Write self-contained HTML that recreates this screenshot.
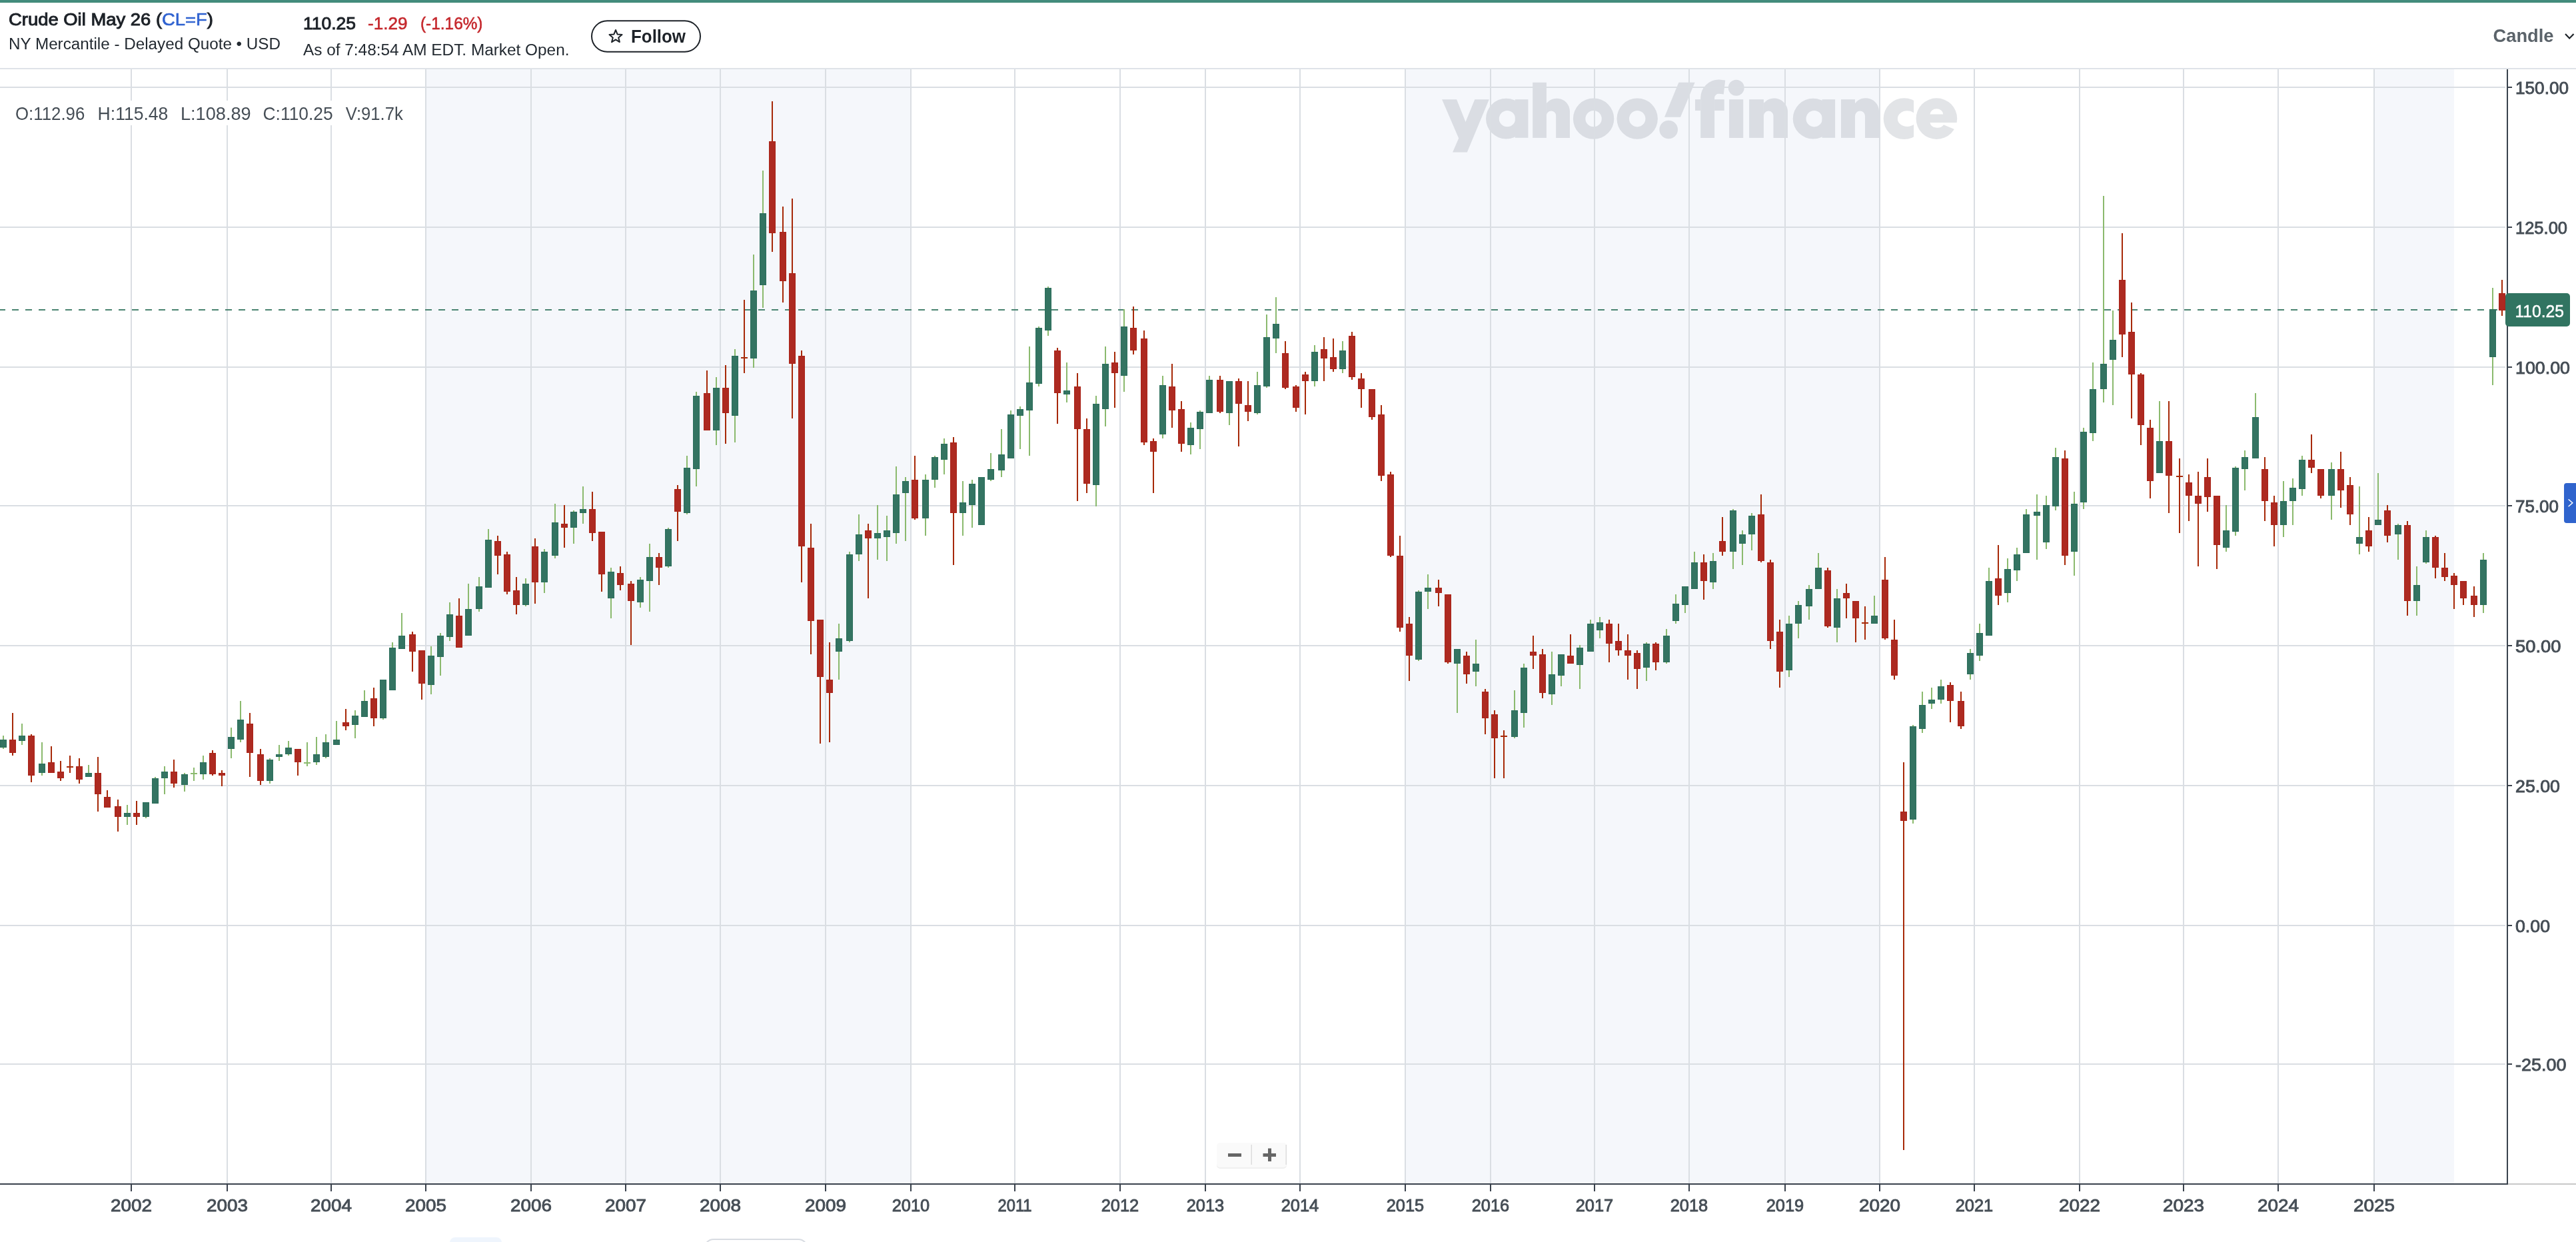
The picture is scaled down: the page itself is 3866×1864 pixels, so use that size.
<!DOCTYPE html>
<html><head><meta charset="utf-8"><title>Crude Oil May 26 (CL=F)</title>
<style>
html,body{margin:0;padding:0;background:#fff;}
body{width:3866px;height:1864px;overflow:hidden;position:relative;font-family:"Liberation Sans",sans-serif;}
</style></head><body>
<svg width="3866" height="1864" viewBox="0 0 3866 1864" style="position:absolute;left:0;top:0" font-family="Liberation Sans, sans-serif">
<rect x="639" y="104" width="728" height="1672" fill="#f5f7fb"/>
<rect x="2109" y="104" width="712" height="1672" fill="#f5f7fb"/>
<rect x="3563" y="104" width="120" height="1672" fill="#f5f7fb"/>
<defs>
<mask id="mc" maskUnits="userSpaceOnUse" x="2820" y="140" width="130" height="80"><rect x="2820" y="140" width="130" height="80" fill="#fff"/><ellipse cx="2862.3" cy="178.15" rx="14.4" ry="11.85" fill="#000"/><rect x="2872.1" y="140" width="30" height="80" fill="#000"/></mask>
<mask id="me" maskUnits="userSpaceOnUse" x="2870" y="140" width="80" height="80"><rect x="2870" y="140" width="80" height="80" fill="#fff"/><path d="M2896.5 171.4 A9.9 8.1 0 0 1 2916.3 171.4 Z" fill="#000"/><path d="M2896.5 183.9 H2945 V199.1 L2917 187.2 A11 9 0 0 1 2896.5 183.9 Z" fill="#000"/></mask>
</defs>
<g opacity="0.2" fill="rgb(110,120,135)" stroke="none">
<path d="M2164.1 149.2 H2186.1 L2199.5 182.9 L2213.3 149.2 H2234.8 L2201.8 228.5 H2180.1 L2189.2 207.5 Z"/>
<path fill-rule="evenodd" d="M2230.05 178.15 a30.35 30.35 0 1 0 60.7 0 a30.35 30.35 0 1 0 -60.7 0 Z M2249.8 178.15 a12.2 12.2 0 1 0 24.4 0 a12.2 12.2 0 1 0 -24.4 0 Z"/>
<rect x="2273.8" y="149.2" width="19.6" height="57.6"/>
<rect x="2300.2" y="123.8" width="20.700000000000273" height="83.10000000000001"/><path d="M2320.9 155.11 A19.7 19.7 0 0 1 2356 167.4 V206.9 H2335.2 V173.64999999999986 A7.149999999999864 7.149999999999864 0 0 0 2320.9 173.64999999999986 Z"/>
<path fill-rule="evenodd" d="M2360.9 178.15 a30.7 30.7 0 1 0 61.4 0 a30.7 30.7 0 1 0 -61.4 0 Z M2379.4 178.15 a12.2 12.2 0 1 0 24.4 0 a12.2 12.2 0 1 0 -24.4 0 Z"/>
<path fill-rule="evenodd" d="M2426.5 178.15 a30.7 30.7 0 1 0 61.4 0 a30.7 30.7 0 1 0 -61.4 0 Z M2445.0 178.15 a12.2 12.2 0 1 0 24.4 0 a12.2 12.2 0 1 0 -24.4 0 Z"/>
<path d="M2519.4 123.8 H2543.6 L2522 175.7 H2498 Z"/>
<circle cx="2504.2" cy="194.5" r="13.8"/>
<rect x="2544" y="149.2" width="8.2" height="16.8"/><rect x="2573.1" y="149.2" width="14.6" height="16.8"/>
<path d="M2562.65 207 V147 A17 17 0 0 1 2579.6 130 L2588 131" fill="none" stroke="rgb(110,120,135)" stroke-width="20.9"/>
<rect x="2595.1" y="149.2" width="21.1" height="57.8"/>
<circle cx="2605.7" cy="131.8" r="12"/>
<rect x="2625.1" y="149.2" width="21.800000000000182" height="57.70000000000002"/><path d="M2646.9 154.87 A20.4 20.4 0 0 1 2683 167.9 V206.9 H2661.5 V173.79999999999995 A7.2999999999999545 7.2999999999999545 0 0 0 2646.9 173.79999999999995 Z"/>
<path fill-rule="evenodd" d="M2690.75 178.15 a30.35 30.35 0 1 0 60.7 0 a30.35 30.35 0 1 0 -60.7 0 Z M2710.5 178.15 a12.2 12.2 0 1 0 24.4 0 a12.2 12.2 0 1 0 -24.4 0 Z"/>
<rect x="2734.5" y="149.2" width="19.6" height="57.6"/>
<rect x="2763" y="149.2" width="21" height="57.70000000000002"/><path d="M2784 155.20 A20 20 0 0 1 2820 167.2 V206.9 H2799 V174.0 A7.5 7.5 0 0 0 2784 174.0 Z"/>
<circle cx="2857.6" cy="178.1" r="30.9" mask="url(#mc)"/>
<circle cx="2906.4" cy="178.1" r="30.8" mask="url(#me)"/>
</g>
<rect x="0" y="130" width="3760" height="2" fill="#dadee3"/>
<rect x="0" y="340" width="3760" height="2" fill="#dadee3"/>
<rect x="0" y="550" width="3760" height="2" fill="#dadee3"/>
<rect x="0" y="758" width="3760" height="2" fill="#dadee3"/>
<rect x="0" y="968" width="3760" height="2" fill="#dadee3"/>
<rect x="0" y="1178" width="3760" height="2" fill="#dadee3"/>
<rect x="0" y="1388" width="3760" height="2" fill="#dadee3"/>
<rect x="0" y="1596" width="3760" height="2" fill="#dadee3"/>
<rect x="196" y="104" width="2" height="1672" fill="#dadee3"/>
<rect x="340" y="104" width="2" height="1672" fill="#dadee3"/>
<rect x="496" y="104" width="2" height="1672" fill="#dadee3"/>
<rect x="638" y="104" width="2" height="1672" fill="#dadee3"/>
<rect x="796" y="104" width="2" height="1672" fill="#dadee3"/>
<rect x="938" y="104" width="2" height="1672" fill="#dadee3"/>
<rect x="1080" y="104" width="2" height="1672" fill="#dadee3"/>
<rect x="1238" y="104" width="2" height="1672" fill="#dadee3"/>
<rect x="1366" y="104" width="2" height="1672" fill="#dadee3"/>
<rect x="1522" y="104" width="2" height="1672" fill="#dadee3"/>
<rect x="1680" y="104" width="2" height="1672" fill="#dadee3"/>
<rect x="1808" y="104" width="2" height="1672" fill="#dadee3"/>
<rect x="1950" y="104" width="2" height="1672" fill="#dadee3"/>
<rect x="2108" y="104" width="2" height="1672" fill="#dadee3"/>
<rect x="2236" y="104" width="2" height="1672" fill="#dadee3"/>
<rect x="2392" y="104" width="2" height="1672" fill="#dadee3"/>
<rect x="2534" y="104" width="2" height="1672" fill="#dadee3"/>
<rect x="2678" y="104" width="2" height="1672" fill="#dadee3"/>
<rect x="2820" y="104" width="2" height="1672" fill="#dadee3"/>
<rect x="2962" y="104" width="2" height="1672" fill="#dadee3"/>
<rect x="3120" y="104" width="2" height="1672" fill="#dadee3"/>
<rect x="3276" y="104" width="2" height="1672" fill="#dadee3"/>
<rect x="3418" y="104" width="2" height="1672" fill="#dadee3"/>
<rect x="3562" y="104" width="2" height="1672" fill="#dadee3"/>
<rect x="0" y="102" width="3866" height="2" fill="#dfe3e8"/>
<line x1="0" y1="465" x2="3760" y2="465" stroke="#4a8471" stroke-width="2" stroke-dasharray="10 10" stroke-dashoffset="2"/>
<rect x="4" y="1104" width="2" height="20" fill="#8bba6e"/>
<rect x="0" y="1110" width="10" height="12" fill="#2b6e5b"/>
<rect x="1" y="1111" width="8" height="10" fill="#347462"/>
<rect x="18" y="1070" width="2" height="64" fill="#a72908"/>
<rect x="14" y="1110" width="10" height="20" fill="#aa2318"/>
<rect x="15" y="1111" width="8" height="18" fill="#ad2a21"/>
<rect x="32" y="1086" width="2" height="32" fill="#8bba6e"/>
<rect x="28" y="1104" width="10" height="8" fill="#2b6e5b"/>
<rect x="29" y="1105" width="8" height="6" fill="#347462"/>
<rect x="46" y="1102" width="2" height="72" fill="#a72908"/>
<rect x="42" y="1104" width="10" height="60" fill="#aa2318"/>
<rect x="43" y="1105" width="8" height="58" fill="#ad2a21"/>
<rect x="62" y="1114" width="2" height="50" fill="#8bba6e"/>
<rect x="58" y="1146" width="10" height="14" fill="#2b6e5b"/>
<rect x="59" y="1147" width="8" height="12" fill="#347462"/>
<rect x="76" y="1120" width="2" height="40" fill="#a72908"/>
<rect x="72" y="1144" width="10" height="16" fill="#aa2318"/>
<rect x="73" y="1145" width="8" height="14" fill="#ad2a21"/>
<rect x="90" y="1142" width="2" height="30" fill="#a72908"/>
<rect x="86" y="1158" width="10" height="10" fill="#aa2318"/>
<rect x="87" y="1159" width="8" height="8" fill="#ad2a21"/>
<rect x="104" y="1134" width="2" height="26" fill="#a72908"/>
<rect x="100" y="1150" width="10" height="2" fill="#a72908"/>
<rect x="118" y="1138" width="2" height="38" fill="#a72908"/>
<rect x="114" y="1150" width="10" height="20" fill="#aa2318"/>
<rect x="115" y="1151" width="8" height="18" fill="#ad2a21"/>
<rect x="132" y="1148" width="2" height="18" fill="#8bba6e"/>
<rect x="128" y="1160" width="10" height="6" fill="#2b6e5b"/>
<rect x="129" y="1161" width="8" height="4" fill="#347462"/>
<rect x="146" y="1136" width="2" height="82" fill="#a72908"/>
<rect x="142" y="1160" width="10" height="32" fill="#aa2318"/>
<rect x="143" y="1161" width="8" height="30" fill="#ad2a21"/>
<rect x="160" y="1186" width="2" height="26" fill="#a72908"/>
<rect x="156" y="1196" width="10" height="16" fill="#aa2318"/>
<rect x="157" y="1197" width="8" height="14" fill="#ad2a21"/>
<rect x="176" y="1200" width="2" height="48" fill="#a72908"/>
<rect x="172" y="1210" width="10" height="16" fill="#aa2318"/>
<rect x="173" y="1211" width="8" height="14" fill="#ad2a21"/>
<rect x="190" y="1208" width="2" height="30" fill="#8bba6e"/>
<rect x="186" y="1220" width="10" height="6" fill="#2b6e5b"/>
<rect x="187" y="1221" width="8" height="4" fill="#347462"/>
<rect x="204" y="1202" width="2" height="36" fill="#a72908"/>
<rect x="200" y="1220" width="10" height="6" fill="#aa2318"/>
<rect x="201" y="1221" width="8" height="4" fill="#ad2a21"/>
<rect x="218" y="1204" width="2" height="24" fill="#8bba6e"/>
<rect x="214" y="1204" width="10" height="22" fill="#2b6e5b"/>
<rect x="215" y="1205" width="8" height="20" fill="#347462"/>
<rect x="232" y="1166" width="2" height="40" fill="#8bba6e"/>
<rect x="228" y="1168" width="10" height="38" fill="#2b6e5b"/>
<rect x="229" y="1169" width="8" height="36" fill="#347462"/>
<rect x="246" y="1150" width="2" height="42" fill="#8bba6e"/>
<rect x="242" y="1158" width="10" height="10" fill="#2b6e5b"/>
<rect x="243" y="1159" width="8" height="8" fill="#347462"/>
<rect x="260" y="1140" width="2" height="42" fill="#a72908"/>
<rect x="256" y="1158" width="10" height="18" fill="#aa2318"/>
<rect x="257" y="1159" width="8" height="16" fill="#ad2a21"/>
<rect x="276" y="1160" width="2" height="28" fill="#8bba6e"/>
<rect x="272" y="1162" width="10" height="16" fill="#2b6e5b"/>
<rect x="273" y="1163" width="8" height="14" fill="#347462"/>
<rect x="290" y="1152" width="2" height="20" fill="#8bba6e"/>
<rect x="286" y="1160" width="10" height="2" fill="#8bba6e"/>
<rect x="304" y="1134" width="2" height="36" fill="#8bba6e"/>
<rect x="300" y="1144" width="10" height="18" fill="#2b6e5b"/>
<rect x="301" y="1145" width="8" height="16" fill="#347462"/>
<rect x="318" y="1126" width="2" height="38" fill="#a72908"/>
<rect x="314" y="1130" width="10" height="32" fill="#aa2318"/>
<rect x="315" y="1131" width="8" height="30" fill="#ad2a21"/>
<rect x="332" y="1156" width="2" height="24" fill="#a72908"/>
<rect x="328" y="1160" width="10" height="4" fill="#aa2318"/>
<rect x="329" y="1161" width="8" height="2" fill="#ad2a21"/>
<rect x="346" y="1092" width="2" height="46" fill="#8bba6e"/>
<rect x="342" y="1106" width="10" height="18" fill="#2b6e5b"/>
<rect x="343" y="1107" width="8" height="16" fill="#347462"/>
<rect x="360" y="1052" width="2" height="62" fill="#8bba6e"/>
<rect x="356" y="1080" width="10" height="30" fill="#2b6e5b"/>
<rect x="357" y="1081" width="8" height="28" fill="#347462"/>
<rect x="374" y="1070" width="2" height="96" fill="#a72908"/>
<rect x="370" y="1086" width="10" height="44" fill="#aa2318"/>
<rect x="371" y="1087" width="8" height="42" fill="#ad2a21"/>
<rect x="390" y="1124" width="2" height="54" fill="#a72908"/>
<rect x="386" y="1132" width="10" height="40" fill="#aa2318"/>
<rect x="387" y="1133" width="8" height="38" fill="#ad2a21"/>
<rect x="404" y="1138" width="2" height="38" fill="#8bba6e"/>
<rect x="400" y="1140" width="10" height="32" fill="#2b6e5b"/>
<rect x="401" y="1141" width="8" height="30" fill="#347462"/>
<rect x="418" y="1118" width="2" height="24" fill="#8bba6e"/>
<rect x="414" y="1132" width="10" height="4" fill="#2b6e5b"/>
<rect x="415" y="1133" width="8" height="2" fill="#347462"/>
<rect x="432" y="1112" width="2" height="22" fill="#8bba6e"/>
<rect x="428" y="1122" width="10" height="10" fill="#2b6e5b"/>
<rect x="429" y="1123" width="8" height="8" fill="#347462"/>
<rect x="446" y="1124" width="2" height="40" fill="#a72908"/>
<rect x="442" y="1124" width="10" height="20" fill="#aa2318"/>
<rect x="443" y="1125" width="8" height="18" fill="#ad2a21"/>
<rect x="460" y="1114" width="2" height="36" fill="#8bba6e"/>
<rect x="456" y="1144" width="10" height="2" fill="#8bba6e"/>
<rect x="474" y="1106" width="2" height="42" fill="#8bba6e"/>
<rect x="470" y="1132" width="10" height="12" fill="#2b6e5b"/>
<rect x="471" y="1133" width="8" height="10" fill="#347462"/>
<rect x="488" y="1102" width="2" height="36" fill="#8bba6e"/>
<rect x="484" y="1114" width="10" height="22" fill="#2b6e5b"/>
<rect x="485" y="1115" width="8" height="20" fill="#347462"/>
<rect x="504" y="1082" width="2" height="36" fill="#8bba6e"/>
<rect x="500" y="1110" width="10" height="8" fill="#2b6e5b"/>
<rect x="501" y="1111" width="8" height="6" fill="#347462"/>
<rect x="518" y="1064" width="2" height="32" fill="#a72908"/>
<rect x="514" y="1084" width="10" height="6" fill="#aa2318"/>
<rect x="515" y="1085" width="8" height="4" fill="#ad2a21"/>
<rect x="532" y="1066" width="2" height="42" fill="#8bba6e"/>
<rect x="528" y="1074" width="10" height="14" fill="#2b6e5b"/>
<rect x="529" y="1075" width="8" height="12" fill="#347462"/>
<rect x="546" y="1036" width="2" height="40" fill="#8bba6e"/>
<rect x="542" y="1052" width="10" height="24" fill="#2b6e5b"/>
<rect x="543" y="1053" width="8" height="22" fill="#347462"/>
<rect x="560" y="1032" width="2" height="58" fill="#a72908"/>
<rect x="556" y="1048" width="10" height="30" fill="#aa2318"/>
<rect x="557" y="1049" width="8" height="28" fill="#ad2a21"/>
<rect x="574" y="1020" width="2" height="60" fill="#8bba6e"/>
<rect x="570" y="1020" width="10" height="58" fill="#2b6e5b"/>
<rect x="571" y="1021" width="8" height="56" fill="#347462"/>
<rect x="588" y="964" width="2" height="72" fill="#8bba6e"/>
<rect x="584" y="972" width="10" height="64" fill="#2b6e5b"/>
<rect x="585" y="973" width="8" height="62" fill="#347462"/>
<rect x="602" y="920" width="2" height="54" fill="#8bba6e"/>
<rect x="598" y="954" width="10" height="20" fill="#2b6e5b"/>
<rect x="599" y="955" width="8" height="18" fill="#347462"/>
<rect x="618" y="948" width="2" height="60" fill="#a72908"/>
<rect x="614" y="952" width="10" height="26" fill="#aa2318"/>
<rect x="615" y="953" width="8" height="24" fill="#ad2a21"/>
<rect x="632" y="976" width="2" height="74" fill="#a72908"/>
<rect x="628" y="976" width="10" height="50" fill="#aa2318"/>
<rect x="629" y="977" width="8" height="48" fill="#ad2a21"/>
<rect x="646" y="970" width="2" height="72" fill="#8bba6e"/>
<rect x="642" y="984" width="10" height="44" fill="#2b6e5b"/>
<rect x="643" y="985" width="8" height="42" fill="#347462"/>
<rect x="660" y="950" width="2" height="64" fill="#8bba6e"/>
<rect x="656" y="954" width="10" height="32" fill="#2b6e5b"/>
<rect x="657" y="955" width="8" height="30" fill="#347462"/>
<rect x="674" y="904" width="2" height="58" fill="#8bba6e"/>
<rect x="670" y="922" width="10" height="34" fill="#2b6e5b"/>
<rect x="671" y="923" width="8" height="32" fill="#347462"/>
<rect x="688" y="898" width="2" height="74" fill="#a72908"/>
<rect x="684" y="924" width="10" height="48" fill="#aa2318"/>
<rect x="685" y="925" width="8" height="46" fill="#ad2a21"/>
<rect x="702" y="876" width="2" height="78" fill="#8bba6e"/>
<rect x="698" y="914" width="10" height="40" fill="#2b6e5b"/>
<rect x="699" y="915" width="8" height="38" fill="#347462"/>
<rect x="718" y="866" width="2" height="52" fill="#8bba6e"/>
<rect x="714" y="880" width="10" height="34" fill="#2b6e5b"/>
<rect x="715" y="881" width="8" height="32" fill="#347462"/>
<rect x="732" y="794" width="2" height="88" fill="#8bba6e"/>
<rect x="728" y="810" width="10" height="72" fill="#2b6e5b"/>
<rect x="729" y="811" width="8" height="70" fill="#347462"/>
<rect x="746" y="804" width="2" height="58" fill="#a72908"/>
<rect x="742" y="812" width="10" height="22" fill="#aa2318"/>
<rect x="743" y="813" width="8" height="20" fill="#ad2a21"/>
<rect x="760" y="828" width="2" height="64" fill="#a72908"/>
<rect x="756" y="832" width="10" height="56" fill="#aa2318"/>
<rect x="757" y="833" width="8" height="54" fill="#ad2a21"/>
<rect x="774" y="866" width="2" height="56" fill="#a72908"/>
<rect x="770" y="886" width="10" height="22" fill="#aa2318"/>
<rect x="771" y="887" width="8" height="20" fill="#ad2a21"/>
<rect x="788" y="868" width="2" height="42" fill="#8bba6e"/>
<rect x="784" y="876" width="10" height="32" fill="#2b6e5b"/>
<rect x="785" y="877" width="8" height="30" fill="#347462"/>
<rect x="802" y="808" width="2" height="98" fill="#a72908"/>
<rect x="798" y="820" width="10" height="54" fill="#aa2318"/>
<rect x="799" y="821" width="8" height="52" fill="#ad2a21"/>
<rect x="816" y="824" width="2" height="66" fill="#8bba6e"/>
<rect x="812" y="828" width="10" height="46" fill="#2b6e5b"/>
<rect x="813" y="829" width="8" height="44" fill="#347462"/>
<rect x="832" y="756" width="2" height="82" fill="#8bba6e"/>
<rect x="828" y="784" width="10" height="50" fill="#2b6e5b"/>
<rect x="829" y="785" width="8" height="48" fill="#347462"/>
<rect x="846" y="758" width="2" height="64" fill="#a72908"/>
<rect x="842" y="786" width="10" height="6" fill="#aa2318"/>
<rect x="843" y="787" width="8" height="4" fill="#ad2a21"/>
<rect x="860" y="766" width="2" height="50" fill="#8bba6e"/>
<rect x="856" y="768" width="10" height="24" fill="#2b6e5b"/>
<rect x="857" y="769" width="8" height="22" fill="#347462"/>
<rect x="874" y="730" width="2" height="56" fill="#8bba6e"/>
<rect x="870" y="764" width="10" height="6" fill="#2b6e5b"/>
<rect x="871" y="765" width="8" height="4" fill="#347462"/>
<rect x="888" y="738" width="2" height="74" fill="#a72908"/>
<rect x="884" y="764" width="10" height="36" fill="#aa2318"/>
<rect x="885" y="765" width="8" height="34" fill="#ad2a21"/>
<rect x="902" y="798" width="2" height="90" fill="#a72908"/>
<rect x="898" y="798" width="10" height="64" fill="#aa2318"/>
<rect x="899" y="799" width="8" height="62" fill="#ad2a21"/>
<rect x="916" y="852" width="2" height="76" fill="#8bba6e"/>
<rect x="912" y="858" width="10" height="40" fill="#2b6e5b"/>
<rect x="913" y="859" width="8" height="38" fill="#347462"/>
<rect x="930" y="850" width="2" height="36" fill="#a72908"/>
<rect x="926" y="860" width="10" height="18" fill="#aa2318"/>
<rect x="927" y="861" width="8" height="16" fill="#ad2a21"/>
<rect x="946" y="872" width="2" height="96" fill="#a72908"/>
<rect x="942" y="876" width="10" height="26" fill="#aa2318"/>
<rect x="943" y="877" width="8" height="24" fill="#ad2a21"/>
<rect x="960" y="866" width="2" height="46" fill="#8bba6e"/>
<rect x="956" y="870" width="10" height="34" fill="#2b6e5b"/>
<rect x="957" y="871" width="8" height="32" fill="#347462"/>
<rect x="974" y="816" width="2" height="102" fill="#8bba6e"/>
<rect x="970" y="836" width="10" height="36" fill="#2b6e5b"/>
<rect x="971" y="837" width="8" height="34" fill="#347462"/>
<rect x="988" y="830" width="2" height="48" fill="#a72908"/>
<rect x="984" y="836" width="10" height="16" fill="#aa2318"/>
<rect x="985" y="837" width="8" height="14" fill="#ad2a21"/>
<rect x="1002" y="792" width="2" height="60" fill="#8bba6e"/>
<rect x="998" y="794" width="10" height="56" fill="#2b6e5b"/>
<rect x="999" y="795" width="8" height="54" fill="#347462"/>
<rect x="1016" y="728" width="2" height="84" fill="#a72908"/>
<rect x="1012" y="734" width="10" height="34" fill="#aa2318"/>
<rect x="1013" y="735" width="8" height="32" fill="#ad2a21"/>
<rect x="1030" y="684" width="2" height="88" fill="#8bba6e"/>
<rect x="1026" y="702" width="10" height="68" fill="#2b6e5b"/>
<rect x="1027" y="703" width="8" height="66" fill="#347462"/>
<rect x="1044" y="588" width="2" height="142" fill="#8bba6e"/>
<rect x="1040" y="594" width="10" height="110" fill="#2b6e5b"/>
<rect x="1041" y="595" width="8" height="108" fill="#347462"/>
<rect x="1060" y="556" width="2" height="90" fill="#a72908"/>
<rect x="1056" y="590" width="10" height="56" fill="#aa2318"/>
<rect x="1057" y="591" width="8" height="54" fill="#ad2a21"/>
<rect x="1074" y="566" width="2" height="102" fill="#8bba6e"/>
<rect x="1070" y="582" width="10" height="64" fill="#2b6e5b"/>
<rect x="1071" y="583" width="8" height="62" fill="#347462"/>
<rect x="1088" y="548" width="2" height="118" fill="#a72908"/>
<rect x="1084" y="582" width="10" height="38" fill="#aa2318"/>
<rect x="1085" y="583" width="8" height="36" fill="#ad2a21"/>
<rect x="1102" y="524" width="2" height="140" fill="#8bba6e"/>
<rect x="1098" y="534" width="10" height="90" fill="#2b6e5b"/>
<rect x="1099" y="535" width="8" height="88" fill="#347462"/>
<rect x="1116" y="450" width="2" height="110" fill="#a72908"/>
<rect x="1112" y="536" width="10" height="2" fill="#a72908"/>
<rect x="1130" y="382" width="2" height="170" fill="#8bba6e"/>
<rect x="1126" y="436" width="10" height="102" fill="#2b6e5b"/>
<rect x="1127" y="437" width="8" height="100" fill="#347462"/>
<rect x="1144" y="256" width="2" height="206" fill="#8bba6e"/>
<rect x="1140" y="320" width="10" height="108" fill="#2b6e5b"/>
<rect x="1141" y="321" width="8" height="106" fill="#347462"/>
<rect x="1158" y="152" width="2" height="226" fill="#a72908"/>
<rect x="1154" y="212" width="10" height="138" fill="#aa2318"/>
<rect x="1155" y="213" width="8" height="136" fill="#ad2a21"/>
<rect x="1174" y="310" width="2" height="144" fill="#a72908"/>
<rect x="1170" y="348" width="10" height="74" fill="#aa2318"/>
<rect x="1171" y="349" width="8" height="72" fill="#ad2a21"/>
<rect x="1188" y="298" width="2" height="330" fill="#a72908"/>
<rect x="1184" y="410" width="10" height="136" fill="#aa2318"/>
<rect x="1185" y="411" width="8" height="134" fill="#ad2a21"/>
<rect x="1202" y="526" width="2" height="348" fill="#a72908"/>
<rect x="1198" y="534" width="10" height="286" fill="#aa2318"/>
<rect x="1199" y="535" width="8" height="284" fill="#ad2a21"/>
<rect x="1216" y="786" width="2" height="196" fill="#a72908"/>
<rect x="1212" y="822" width="10" height="110" fill="#aa2318"/>
<rect x="1213" y="823" width="8" height="108" fill="#ad2a21"/>
<rect x="1230" y="930" width="2" height="186" fill="#a72908"/>
<rect x="1226" y="930" width="10" height="86" fill="#aa2318"/>
<rect x="1227" y="931" width="8" height="84" fill="#ad2a21"/>
<rect x="1244" y="964" width="2" height="150" fill="#a72908"/>
<rect x="1240" y="1020" width="10" height="20" fill="#aa2318"/>
<rect x="1241" y="1021" width="8" height="18" fill="#ad2a21"/>
<rect x="1258" y="936" width="2" height="84" fill="#8bba6e"/>
<rect x="1254" y="958" width="10" height="20" fill="#2b6e5b"/>
<rect x="1255" y="959" width="8" height="18" fill="#347462"/>
<rect x="1274" y="828" width="2" height="136" fill="#8bba6e"/>
<rect x="1270" y="832" width="10" height="130" fill="#2b6e5b"/>
<rect x="1271" y="833" width="8" height="128" fill="#347462"/>
<rect x="1288" y="772" width="2" height="70" fill="#8bba6e"/>
<rect x="1284" y="802" width="10" height="30" fill="#2b6e5b"/>
<rect x="1285" y="803" width="8" height="28" fill="#347462"/>
<rect x="1302" y="786" width="2" height="112" fill="#a72908"/>
<rect x="1298" y="796" width="10" height="12" fill="#aa2318"/>
<rect x="1299" y="797" width="8" height="10" fill="#ad2a21"/>
<rect x="1316" y="758" width="2" height="82" fill="#8bba6e"/>
<rect x="1312" y="800" width="10" height="8" fill="#2b6e5b"/>
<rect x="1313" y="801" width="8" height="6" fill="#347462"/>
<rect x="1330" y="774" width="2" height="68" fill="#8bba6e"/>
<rect x="1326" y="796" width="10" height="10" fill="#2b6e5b"/>
<rect x="1327" y="797" width="8" height="8" fill="#347462"/>
<rect x="1344" y="700" width="2" height="116" fill="#8bba6e"/>
<rect x="1340" y="742" width="10" height="58" fill="#2b6e5b"/>
<rect x="1341" y="743" width="8" height="56" fill="#347462"/>
<rect x="1358" y="716" width="2" height="96" fill="#8bba6e"/>
<rect x="1354" y="722" width="10" height="18" fill="#2b6e5b"/>
<rect x="1355" y="723" width="8" height="16" fill="#347462"/>
<rect x="1372" y="684" width="2" height="96" fill="#a72908"/>
<rect x="1368" y="720" width="10" height="58" fill="#aa2318"/>
<rect x="1369" y="721" width="8" height="56" fill="#ad2a21"/>
<rect x="1388" y="712" width="2" height="92" fill="#8bba6e"/>
<rect x="1384" y="720" width="10" height="58" fill="#2b6e5b"/>
<rect x="1385" y="721" width="8" height="56" fill="#347462"/>
<rect x="1402" y="684" width="2" height="48" fill="#8bba6e"/>
<rect x="1398" y="686" width="10" height="34" fill="#2b6e5b"/>
<rect x="1399" y="687" width="8" height="32" fill="#347462"/>
<rect x="1416" y="658" width="2" height="54" fill="#8bba6e"/>
<rect x="1412" y="666" width="10" height="24" fill="#2b6e5b"/>
<rect x="1413" y="667" width="8" height="22" fill="#347462"/>
<rect x="1430" y="656" width="2" height="192" fill="#a72908"/>
<rect x="1426" y="664" width="10" height="106" fill="#aa2318"/>
<rect x="1427" y="665" width="8" height="104" fill="#ad2a21"/>
<rect x="1444" y="722" width="2" height="82" fill="#8bba6e"/>
<rect x="1440" y="754" width="10" height="16" fill="#2b6e5b"/>
<rect x="1441" y="755" width="8" height="14" fill="#347462"/>
<rect x="1458" y="720" width="2" height="72" fill="#8bba6e"/>
<rect x="1454" y="726" width="10" height="32" fill="#2b6e5b"/>
<rect x="1455" y="727" width="8" height="30" fill="#347462"/>
<rect x="1472" y="716" width="2" height="72" fill="#8bba6e"/>
<rect x="1468" y="716" width="10" height="72" fill="#2b6e5b"/>
<rect x="1469" y="717" width="8" height="70" fill="#347462"/>
<rect x="1486" y="680" width="2" height="42" fill="#8bba6e"/>
<rect x="1482" y="704" width="10" height="16" fill="#2b6e5b"/>
<rect x="1483" y="705" width="8" height="14" fill="#347462"/>
<rect x="1502" y="644" width="2" height="72" fill="#8bba6e"/>
<rect x="1498" y="682" width="10" height="24" fill="#2b6e5b"/>
<rect x="1499" y="683" width="8" height="22" fill="#347462"/>
<rect x="1516" y="616" width="2" height="72" fill="#8bba6e"/>
<rect x="1512" y="622" width="10" height="66" fill="#2b6e5b"/>
<rect x="1513" y="623" width="8" height="64" fill="#347462"/>
<rect x="1530" y="610" width="2" height="64" fill="#8bba6e"/>
<rect x="1526" y="614" width="10" height="10" fill="#2b6e5b"/>
<rect x="1527" y="615" width="8" height="8" fill="#347462"/>
<rect x="1544" y="520" width="2" height="164" fill="#8bba6e"/>
<rect x="1540" y="574" width="10" height="42" fill="#2b6e5b"/>
<rect x="1541" y="575" width="8" height="40" fill="#347462"/>
<rect x="1558" y="490" width="2" height="90" fill="#8bba6e"/>
<rect x="1554" y="492" width="10" height="84" fill="#2b6e5b"/>
<rect x="1555" y="493" width="8" height="82" fill="#347462"/>
<rect x="1572" y="430" width="2" height="74" fill="#8bba6e"/>
<rect x="1568" y="432" width="10" height="64" fill="#2b6e5b"/>
<rect x="1569" y="433" width="8" height="62" fill="#347462"/>
<rect x="1586" y="522" width="2" height="114" fill="#a72908"/>
<rect x="1582" y="526" width="10" height="64" fill="#aa2318"/>
<rect x="1583" y="527" width="8" height="62" fill="#ad2a21"/>
<rect x="1600" y="544" width="2" height="60" fill="#8bba6e"/>
<rect x="1596" y="586" width="10" height="6" fill="#2b6e5b"/>
<rect x="1597" y="587" width="8" height="4" fill="#347462"/>
<rect x="1616" y="560" width="2" height="192" fill="#a72908"/>
<rect x="1612" y="580" width="10" height="64" fill="#aa2318"/>
<rect x="1613" y="581" width="8" height="62" fill="#ad2a21"/>
<rect x="1630" y="628" width="2" height="112" fill="#a72908"/>
<rect x="1626" y="644" width="10" height="82" fill="#aa2318"/>
<rect x="1627" y="645" width="8" height="80" fill="#ad2a21"/>
<rect x="1644" y="594" width="2" height="166" fill="#8bba6e"/>
<rect x="1640" y="606" width="10" height="122" fill="#2b6e5b"/>
<rect x="1641" y="607" width="8" height="120" fill="#347462"/>
<rect x="1658" y="520" width="2" height="120" fill="#8bba6e"/>
<rect x="1654" y="546" width="10" height="68" fill="#2b6e5b"/>
<rect x="1655" y="547" width="8" height="66" fill="#347462"/>
<rect x="1672" y="528" width="2" height="84" fill="#a72908"/>
<rect x="1668" y="544" width="10" height="16" fill="#aa2318"/>
<rect x="1669" y="545" width="8" height="14" fill="#ad2a21"/>
<rect x="1686" y="464" width="2" height="124" fill="#8bba6e"/>
<rect x="1682" y="490" width="10" height="74" fill="#2b6e5b"/>
<rect x="1683" y="491" width="8" height="72" fill="#347462"/>
<rect x="1700" y="460" width="2" height="72" fill="#a72908"/>
<rect x="1696" y="492" width="10" height="34" fill="#aa2318"/>
<rect x="1697" y="493" width="8" height="32" fill="#ad2a21"/>
<rect x="1716" y="496" width="2" height="172" fill="#a72908"/>
<rect x="1712" y="508" width="10" height="156" fill="#aa2318"/>
<rect x="1713" y="509" width="8" height="154" fill="#ad2a21"/>
<rect x="1730" y="658" width="2" height="82" fill="#a72908"/>
<rect x="1726" y="662" width="10" height="16" fill="#aa2318"/>
<rect x="1727" y="663" width="8" height="14" fill="#ad2a21"/>
<rect x="1744" y="564" width="2" height="94" fill="#8bba6e"/>
<rect x="1740" y="578" width="10" height="74" fill="#2b6e5b"/>
<rect x="1741" y="579" width="8" height="72" fill="#347462"/>
<rect x="1758" y="546" width="2" height="96" fill="#a72908"/>
<rect x="1754" y="580" width="10" height="36" fill="#aa2318"/>
<rect x="1755" y="581" width="8" height="34" fill="#ad2a21"/>
<rect x="1772" y="602" width="2" height="76" fill="#a72908"/>
<rect x="1768" y="614" width="10" height="52" fill="#aa2318"/>
<rect x="1769" y="615" width="8" height="50" fill="#ad2a21"/>
<rect x="1786" y="634" width="2" height="48" fill="#8bba6e"/>
<rect x="1782" y="642" width="10" height="26" fill="#2b6e5b"/>
<rect x="1783" y="643" width="8" height="24" fill="#347462"/>
<rect x="1800" y="616" width="2" height="58" fill="#8bba6e"/>
<rect x="1796" y="618" width="10" height="26" fill="#2b6e5b"/>
<rect x="1797" y="619" width="8" height="24" fill="#347462"/>
<rect x="1814" y="564" width="2" height="56" fill="#8bba6e"/>
<rect x="1810" y="570" width="10" height="50" fill="#2b6e5b"/>
<rect x="1811" y="571" width="8" height="48" fill="#347462"/>
<rect x="1830" y="564" width="2" height="56" fill="#a72908"/>
<rect x="1826" y="570" width="10" height="48" fill="#aa2318"/>
<rect x="1827" y="571" width="8" height="46" fill="#ad2a21"/>
<rect x="1844" y="572" width="2" height="66" fill="#8bba6e"/>
<rect x="1840" y="572" width="10" height="48" fill="#2b6e5b"/>
<rect x="1841" y="573" width="8" height="46" fill="#347462"/>
<rect x="1858" y="568" width="2" height="102" fill="#a72908"/>
<rect x="1854" y="572" width="10" height="34" fill="#aa2318"/>
<rect x="1855" y="573" width="8" height="32" fill="#ad2a21"/>
<rect x="1872" y="572" width="2" height="60" fill="#a72908"/>
<rect x="1868" y="608" width="10" height="10" fill="#aa2318"/>
<rect x="1869" y="609" width="8" height="8" fill="#ad2a21"/>
<rect x="1886" y="558" width="2" height="64" fill="#8bba6e"/>
<rect x="1882" y="578" width="10" height="42" fill="#2b6e5b"/>
<rect x="1883" y="579" width="8" height="40" fill="#347462"/>
<rect x="1900" y="472" width="2" height="110" fill="#8bba6e"/>
<rect x="1896" y="506" width="10" height="74" fill="#2b6e5b"/>
<rect x="1897" y="507" width="8" height="72" fill="#347462"/>
<rect x="1914" y="446" width="2" height="84" fill="#8bba6e"/>
<rect x="1910" y="486" width="10" height="22" fill="#2b6e5b"/>
<rect x="1911" y="487" width="8" height="20" fill="#347462"/>
<rect x="1928" y="512" width="2" height="72" fill="#a72908"/>
<rect x="1924" y="530" width="10" height="52" fill="#aa2318"/>
<rect x="1925" y="531" width="8" height="50" fill="#ad2a21"/>
<rect x="1944" y="578" width="2" height="40" fill="#a72908"/>
<rect x="1940" y="580" width="10" height="32" fill="#aa2318"/>
<rect x="1941" y="581" width="8" height="30" fill="#ad2a21"/>
<rect x="1958" y="558" width="2" height="64" fill="#a72908"/>
<rect x="1954" y="562" width="10" height="10" fill="#aa2318"/>
<rect x="1955" y="563" width="8" height="8" fill="#ad2a21"/>
<rect x="1972" y="518" width="2" height="62" fill="#8bba6e"/>
<rect x="1968" y="528" width="10" height="44" fill="#2b6e5b"/>
<rect x="1969" y="529" width="8" height="42" fill="#347462"/>
<rect x="1986" y="506" width="2" height="66" fill="#a72908"/>
<rect x="1982" y="524" width="10" height="14" fill="#aa2318"/>
<rect x="1983" y="525" width="8" height="12" fill="#ad2a21"/>
<rect x="2000" y="508" width="2" height="50" fill="#a72908"/>
<rect x="1996" y="536" width="10" height="18" fill="#aa2318"/>
<rect x="1997" y="537" width="8" height="16" fill="#ad2a21"/>
<rect x="2014" y="512" width="2" height="48" fill="#8bba6e"/>
<rect x="2010" y="526" width="10" height="28" fill="#2b6e5b"/>
<rect x="2011" y="527" width="8" height="26" fill="#347462"/>
<rect x="2028" y="498" width="2" height="72" fill="#a72908"/>
<rect x="2024" y="504" width="10" height="62" fill="#aa2318"/>
<rect x="2025" y="505" width="8" height="60" fill="#ad2a21"/>
<rect x="2042" y="560" width="2" height="52" fill="#a72908"/>
<rect x="2038" y="568" width="10" height="16" fill="#aa2318"/>
<rect x="2039" y="569" width="8" height="14" fill="#ad2a21"/>
<rect x="2058" y="584" width="2" height="46" fill="#a72908"/>
<rect x="2054" y="584" width="10" height="42" fill="#aa2318"/>
<rect x="2055" y="585" width="8" height="40" fill="#ad2a21"/>
<rect x="2072" y="608" width="2" height="114" fill="#a72908"/>
<rect x="2068" y="622" width="10" height="92" fill="#aa2318"/>
<rect x="2069" y="623" width="8" height="90" fill="#ad2a21"/>
<rect x="2086" y="708" width="2" height="128" fill="#a72908"/>
<rect x="2082" y="712" width="10" height="122" fill="#aa2318"/>
<rect x="2083" y="713" width="8" height="120" fill="#ad2a21"/>
<rect x="2100" y="804" width="2" height="144" fill="#a72908"/>
<rect x="2096" y="834" width="10" height="108" fill="#aa2318"/>
<rect x="2097" y="835" width="8" height="106" fill="#ad2a21"/>
<rect x="2114" y="926" width="2" height="96" fill="#a72908"/>
<rect x="2110" y="936" width="10" height="48" fill="#aa2318"/>
<rect x="2111" y="937" width="8" height="46" fill="#ad2a21"/>
<rect x="2128" y="886" width="2" height="106" fill="#8bba6e"/>
<rect x="2124" y="888" width="10" height="102" fill="#2b6e5b"/>
<rect x="2125" y="889" width="8" height="100" fill="#347462"/>
<rect x="2142" y="862" width="2" height="52" fill="#8bba6e"/>
<rect x="2138" y="882" width="10" height="6" fill="#2b6e5b"/>
<rect x="2139" y="883" width="8" height="4" fill="#347462"/>
<rect x="2158" y="870" width="2" height="40" fill="#a72908"/>
<rect x="2154" y="882" width="10" height="8" fill="#aa2318"/>
<rect x="2155" y="883" width="8" height="6" fill="#ad2a21"/>
<rect x="2172" y="892" width="2" height="104" fill="#a72908"/>
<rect x="2168" y="892" width="10" height="102" fill="#aa2318"/>
<rect x="2169" y="893" width="8" height="100" fill="#ad2a21"/>
<rect x="2186" y="974" width="2" height="96" fill="#8bba6e"/>
<rect x="2182" y="974" width="10" height="22" fill="#2b6e5b"/>
<rect x="2183" y="975" width="8" height="20" fill="#347462"/>
<rect x="2200" y="978" width="2" height="48" fill="#a72908"/>
<rect x="2196" y="984" width="10" height="28" fill="#aa2318"/>
<rect x="2197" y="985" width="8" height="26" fill="#ad2a21"/>
<rect x="2214" y="960" width="2" height="70" fill="#8bba6e"/>
<rect x="2210" y="996" width="10" height="12" fill="#2b6e5b"/>
<rect x="2211" y="997" width="8" height="10" fill="#347462"/>
<rect x="2228" y="1034" width="2" height="68" fill="#a72908"/>
<rect x="2224" y="1038" width="10" height="40" fill="#aa2318"/>
<rect x="2225" y="1039" width="8" height="38" fill="#ad2a21"/>
<rect x="2242" y="1066" width="2" height="102" fill="#a72908"/>
<rect x="2238" y="1072" width="10" height="36" fill="#aa2318"/>
<rect x="2239" y="1073" width="8" height="34" fill="#ad2a21"/>
<rect x="2256" y="1096" width="2" height="72" fill="#a72908"/>
<rect x="2252" y="1104" width="10" height="2" fill="#a72908"/>
<rect x="2272" y="1036" width="2" height="72" fill="#8bba6e"/>
<rect x="2268" y="1066" width="10" height="40" fill="#2b6e5b"/>
<rect x="2269" y="1067" width="8" height="38" fill="#347462"/>
<rect x="2286" y="996" width="2" height="96" fill="#8bba6e"/>
<rect x="2282" y="1002" width="10" height="68" fill="#2b6e5b"/>
<rect x="2283" y="1003" width="8" height="66" fill="#347462"/>
<rect x="2300" y="954" width="2" height="50" fill="#a72908"/>
<rect x="2296" y="978" width="10" height="6" fill="#aa2318"/>
<rect x="2297" y="979" width="8" height="4" fill="#ad2a21"/>
<rect x="2314" y="974" width="2" height="74" fill="#a72908"/>
<rect x="2310" y="982" width="10" height="58" fill="#aa2318"/>
<rect x="2311" y="983" width="8" height="56" fill="#ad2a21"/>
<rect x="2328" y="978" width="2" height="80" fill="#8bba6e"/>
<rect x="2324" y="1012" width="10" height="30" fill="#2b6e5b"/>
<rect x="2325" y="1013" width="8" height="28" fill="#347462"/>
<rect x="2342" y="982" width="2" height="48" fill="#8bba6e"/>
<rect x="2338" y="982" width="10" height="32" fill="#2b6e5b"/>
<rect x="2339" y="983" width="8" height="30" fill="#347462"/>
<rect x="2356" y="952" width="2" height="44" fill="#a72908"/>
<rect x="2352" y="984" width="10" height="12" fill="#aa2318"/>
<rect x="2353" y="985" width="8" height="10" fill="#ad2a21"/>
<rect x="2370" y="968" width="2" height="66" fill="#8bba6e"/>
<rect x="2366" y="972" width="10" height="26" fill="#2b6e5b"/>
<rect x="2367" y="973" width="8" height="24" fill="#347462"/>
<rect x="2386" y="930" width="2" height="48" fill="#8bba6e"/>
<rect x="2382" y="936" width="10" height="42" fill="#2b6e5b"/>
<rect x="2383" y="937" width="8" height="40" fill="#347462"/>
<rect x="2400" y="926" width="2" height="32" fill="#8bba6e"/>
<rect x="2396" y="934" width="10" height="12" fill="#2b6e5b"/>
<rect x="2397" y="935" width="8" height="10" fill="#347462"/>
<rect x="2414" y="930" width="2" height="64" fill="#a72908"/>
<rect x="2410" y="936" width="10" height="30" fill="#aa2318"/>
<rect x="2411" y="937" width="8" height="28" fill="#ad2a21"/>
<rect x="2428" y="936" width="2" height="48" fill="#a72908"/>
<rect x="2424" y="962" width="10" height="14" fill="#aa2318"/>
<rect x="2425" y="963" width="8" height="12" fill="#ad2a21"/>
<rect x="2442" y="952" width="2" height="68" fill="#a72908"/>
<rect x="2438" y="976" width="10" height="8" fill="#aa2318"/>
<rect x="2439" y="977" width="8" height="6" fill="#ad2a21"/>
<rect x="2456" y="976" width="2" height="58" fill="#a72908"/>
<rect x="2452" y="980" width="10" height="24" fill="#aa2318"/>
<rect x="2453" y="981" width="8" height="22" fill="#ad2a21"/>
<rect x="2470" y="964" width="2" height="58" fill="#8bba6e"/>
<rect x="2466" y="966" width="10" height="36" fill="#2b6e5b"/>
<rect x="2467" y="967" width="8" height="34" fill="#347462"/>
<rect x="2484" y="964" width="2" height="42" fill="#a72908"/>
<rect x="2480" y="966" width="10" height="28" fill="#aa2318"/>
<rect x="2481" y="967" width="8" height="26" fill="#ad2a21"/>
<rect x="2500" y="944" width="2" height="52" fill="#8bba6e"/>
<rect x="2496" y="954" width="10" height="40" fill="#2b6e5b"/>
<rect x="2497" y="955" width="8" height="38" fill="#347462"/>
<rect x="2514" y="892" width="2" height="44" fill="#8bba6e"/>
<rect x="2510" y="906" width="10" height="26" fill="#2b6e5b"/>
<rect x="2511" y="907" width="8" height="24" fill="#347462"/>
<rect x="2528" y="880" width="2" height="40" fill="#8bba6e"/>
<rect x="2524" y="880" width="10" height="28" fill="#2b6e5b"/>
<rect x="2525" y="881" width="8" height="26" fill="#347462"/>
<rect x="2542" y="828" width="2" height="56" fill="#8bba6e"/>
<rect x="2538" y="844" width="10" height="40" fill="#2b6e5b"/>
<rect x="2539" y="845" width="8" height="38" fill="#347462"/>
<rect x="2556" y="832" width="2" height="68" fill="#a72908"/>
<rect x="2552" y="844" width="10" height="28" fill="#aa2318"/>
<rect x="2553" y="845" width="8" height="26" fill="#ad2a21"/>
<rect x="2570" y="830" width="2" height="54" fill="#8bba6e"/>
<rect x="2566" y="842" width="10" height="32" fill="#2b6e5b"/>
<rect x="2567" y="843" width="8" height="30" fill="#347462"/>
<rect x="2584" y="776" width="2" height="58" fill="#a72908"/>
<rect x="2580" y="812" width="10" height="16" fill="#aa2318"/>
<rect x="2581" y="813" width="8" height="14" fill="#ad2a21"/>
<rect x="2600" y="764" width="2" height="90" fill="#8bba6e"/>
<rect x="2596" y="766" width="10" height="62" fill="#2b6e5b"/>
<rect x="2597" y="767" width="8" height="60" fill="#347462"/>
<rect x="2614" y="796" width="2" height="52" fill="#8bba6e"/>
<rect x="2610" y="802" width="10" height="14" fill="#2b6e5b"/>
<rect x="2611" y="803" width="8" height="12" fill="#347462"/>
<rect x="2628" y="770" width="2" height="56" fill="#8bba6e"/>
<rect x="2624" y="774" width="10" height="28" fill="#2b6e5b"/>
<rect x="2625" y="775" width="8" height="26" fill="#347462"/>
<rect x="2642" y="742" width="2" height="102" fill="#a72908"/>
<rect x="2638" y="772" width="10" height="70" fill="#aa2318"/>
<rect x="2639" y="773" width="8" height="68" fill="#ad2a21"/>
<rect x="2656" y="840" width="2" height="134" fill="#a72908"/>
<rect x="2652" y="844" width="10" height="118" fill="#aa2318"/>
<rect x="2653" y="845" width="8" height="116" fill="#ad2a21"/>
<rect x="2670" y="930" width="2" height="102" fill="#a72908"/>
<rect x="2666" y="948" width="10" height="60" fill="#aa2318"/>
<rect x="2667" y="949" width="8" height="58" fill="#ad2a21"/>
<rect x="2684" y="924" width="2" height="92" fill="#8bba6e"/>
<rect x="2680" y="936" width="10" height="70" fill="#2b6e5b"/>
<rect x="2681" y="937" width="8" height="68" fill="#347462"/>
<rect x="2698" y="902" width="2" height="56" fill="#8bba6e"/>
<rect x="2694" y="908" width="10" height="28" fill="#2b6e5b"/>
<rect x="2695" y="909" width="8" height="26" fill="#347462"/>
<rect x="2714" y="878" width="2" height="52" fill="#8bba6e"/>
<rect x="2710" y="884" width="10" height="26" fill="#2b6e5b"/>
<rect x="2711" y="885" width="8" height="24" fill="#347462"/>
<rect x="2728" y="830" width="2" height="54" fill="#8bba6e"/>
<rect x="2724" y="852" width="10" height="32" fill="#2b6e5b"/>
<rect x="2725" y="853" width="8" height="30" fill="#347462"/>
<rect x="2742" y="852" width="2" height="90" fill="#a72908"/>
<rect x="2738" y="856" width="10" height="84" fill="#aa2318"/>
<rect x="2739" y="857" width="8" height="82" fill="#ad2a21"/>
<rect x="2756" y="884" width="2" height="80" fill="#8bba6e"/>
<rect x="2752" y="898" width="10" height="44" fill="#2b6e5b"/>
<rect x="2753" y="899" width="8" height="42" fill="#347462"/>
<rect x="2770" y="876" width="2" height="52" fill="#a72908"/>
<rect x="2766" y="890" width="10" height="8" fill="#aa2318"/>
<rect x="2767" y="891" width="8" height="6" fill="#ad2a21"/>
<rect x="2784" y="902" width="2" height="62" fill="#a72908"/>
<rect x="2780" y="902" width="10" height="26" fill="#aa2318"/>
<rect x="2781" y="903" width="8" height="24" fill="#ad2a21"/>
<rect x="2798" y="910" width="2" height="50" fill="#a72908"/>
<rect x="2794" y="934" width="10" height="2" fill="#a72908"/>
<rect x="2812" y="894" width="2" height="42" fill="#8bba6e"/>
<rect x="2808" y="924" width="10" height="12" fill="#2b6e5b"/>
<rect x="2809" y="925" width="8" height="10" fill="#347462"/>
<rect x="2828" y="836" width="2" height="124" fill="#a72908"/>
<rect x="2824" y="870" width="10" height="88" fill="#aa2318"/>
<rect x="2825" y="871" width="8" height="86" fill="#ad2a21"/>
<rect x="2842" y="930" width="2" height="90" fill="#a72908"/>
<rect x="2838" y="960" width="10" height="54" fill="#aa2318"/>
<rect x="2839" y="961" width="8" height="52" fill="#ad2a21"/>
<rect x="2856" y="1144" width="2" height="582" fill="#a72908"/>
<rect x="2852" y="1218" width="10" height="14" fill="#aa2318"/>
<rect x="2853" y="1219" width="8" height="12" fill="#ad2a21"/>
<rect x="2870" y="1088" width="2" height="148" fill="#8bba6e"/>
<rect x="2866" y="1090" width="10" height="140" fill="#2b6e5b"/>
<rect x="2867" y="1091" width="8" height="138" fill="#347462"/>
<rect x="2884" y="1038" width="2" height="62" fill="#8bba6e"/>
<rect x="2880" y="1058" width="10" height="36" fill="#2b6e5b"/>
<rect x="2881" y="1059" width="8" height="34" fill="#347462"/>
<rect x="2898" y="1032" width="2" height="32" fill="#8bba6e"/>
<rect x="2894" y="1050" width="10" height="6" fill="#2b6e5b"/>
<rect x="2895" y="1051" width="8" height="4" fill="#347462"/>
<rect x="2912" y="1020" width="2" height="36" fill="#8bba6e"/>
<rect x="2908" y="1030" width="10" height="20" fill="#2b6e5b"/>
<rect x="2909" y="1031" width="8" height="18" fill="#347462"/>
<rect x="2926" y="1024" width="2" height="60" fill="#a72908"/>
<rect x="2922" y="1028" width="10" height="24" fill="#aa2318"/>
<rect x="2923" y="1029" width="8" height="22" fill="#ad2a21"/>
<rect x="2942" y="1038" width="2" height="56" fill="#a72908"/>
<rect x="2938" y="1052" width="10" height="38" fill="#aa2318"/>
<rect x="2939" y="1053" width="8" height="36" fill="#ad2a21"/>
<rect x="2956" y="974" width="2" height="46" fill="#8bba6e"/>
<rect x="2952" y="980" width="10" height="32" fill="#2b6e5b"/>
<rect x="2953" y="981" width="8" height="30" fill="#347462"/>
<rect x="2970" y="936" width="2" height="56" fill="#8bba6e"/>
<rect x="2966" y="950" width="10" height="34" fill="#2b6e5b"/>
<rect x="2967" y="951" width="8" height="32" fill="#347462"/>
<rect x="2984" y="852" width="2" height="102" fill="#8bba6e"/>
<rect x="2980" y="872" width="10" height="82" fill="#2b6e5b"/>
<rect x="2981" y="873" width="8" height="80" fill="#347462"/>
<rect x="2998" y="818" width="2" height="90" fill="#a72908"/>
<rect x="2994" y="868" width="10" height="26" fill="#aa2318"/>
<rect x="2995" y="869" width="8" height="24" fill="#ad2a21"/>
<rect x="3012" y="838" width="2" height="66" fill="#8bba6e"/>
<rect x="3008" y="854" width="10" height="36" fill="#2b6e5b"/>
<rect x="3009" y="855" width="8" height="34" fill="#347462"/>
<rect x="3026" y="822" width="2" height="50" fill="#8bba6e"/>
<rect x="3022" y="832" width="10" height="24" fill="#2b6e5b"/>
<rect x="3023" y="833" width="8" height="22" fill="#347462"/>
<rect x="3040" y="764" width="2" height="66" fill="#8bba6e"/>
<rect x="3036" y="772" width="10" height="58" fill="#2b6e5b"/>
<rect x="3037" y="773" width="8" height="56" fill="#347462"/>
<rect x="3056" y="742" width="2" height="98" fill="#8bba6e"/>
<rect x="3052" y="768" width="10" height="6" fill="#2b6e5b"/>
<rect x="3053" y="769" width="8" height="4" fill="#347462"/>
<rect x="3070" y="744" width="2" height="80" fill="#8bba6e"/>
<rect x="3066" y="758" width="10" height="56" fill="#2b6e5b"/>
<rect x="3067" y="759" width="8" height="54" fill="#347462"/>
<rect x="3084" y="672" width="2" height="94" fill="#8bba6e"/>
<rect x="3080" y="686" width="10" height="74" fill="#2b6e5b"/>
<rect x="3081" y="687" width="8" height="72" fill="#347462"/>
<rect x="3098" y="676" width="2" height="172" fill="#a72908"/>
<rect x="3094" y="688" width="10" height="146" fill="#aa2318"/>
<rect x="3095" y="689" width="8" height="144" fill="#ad2a21"/>
<rect x="3112" y="738" width="2" height="126" fill="#8bba6e"/>
<rect x="3108" y="756" width="10" height="72" fill="#2b6e5b"/>
<rect x="3109" y="757" width="8" height="70" fill="#347462"/>
<rect x="3126" y="642" width="2" height="122" fill="#8bba6e"/>
<rect x="3122" y="648" width="10" height="106" fill="#2b6e5b"/>
<rect x="3123" y="649" width="8" height="104" fill="#347462"/>
<rect x="3140" y="544" width="2" height="118" fill="#8bba6e"/>
<rect x="3136" y="584" width="10" height="66" fill="#2b6e5b"/>
<rect x="3137" y="585" width="8" height="64" fill="#347462"/>
<rect x="3156" y="294" width="2" height="310" fill="#8bba6e"/>
<rect x="3152" y="546" width="10" height="38" fill="#2b6e5b"/>
<rect x="3153" y="547" width="8" height="36" fill="#347462"/>
<rect x="3170" y="466" width="2" height="142" fill="#8bba6e"/>
<rect x="3166" y="510" width="10" height="30" fill="#2b6e5b"/>
<rect x="3167" y="511" width="8" height="28" fill="#347462"/>
<rect x="3184" y="350" width="2" height="186" fill="#a72908"/>
<rect x="3180" y="420" width="10" height="82" fill="#aa2318"/>
<rect x="3181" y="421" width="8" height="80" fill="#ad2a21"/>
<rect x="3198" y="454" width="2" height="174" fill="#a72908"/>
<rect x="3194" y="498" width="10" height="64" fill="#aa2318"/>
<rect x="3195" y="499" width="8" height="62" fill="#ad2a21"/>
<rect x="3212" y="560" width="2" height="108" fill="#a72908"/>
<rect x="3208" y="562" width="10" height="76" fill="#aa2318"/>
<rect x="3209" y="563" width="8" height="74" fill="#ad2a21"/>
<rect x="3226" y="630" width="2" height="118" fill="#a72908"/>
<rect x="3222" y="642" width="10" height="80" fill="#aa2318"/>
<rect x="3223" y="643" width="8" height="78" fill="#ad2a21"/>
<rect x="3240" y="602" width="2" height="108" fill="#8bba6e"/>
<rect x="3236" y="662" width="10" height="48" fill="#2b6e5b"/>
<rect x="3237" y="663" width="8" height="46" fill="#347462"/>
<rect x="3254" y="602" width="2" height="168" fill="#a72908"/>
<rect x="3250" y="662" width="10" height="52" fill="#aa2318"/>
<rect x="3251" y="663" width="8" height="50" fill="#ad2a21"/>
<rect x="3270" y="688" width="2" height="112" fill="#a72908"/>
<rect x="3266" y="714" width="10" height="2" fill="#a72908"/>
<rect x="3284" y="712" width="2" height="70" fill="#a72908"/>
<rect x="3280" y="724" width="10" height="20" fill="#aa2318"/>
<rect x="3281" y="725" width="8" height="18" fill="#ad2a21"/>
<rect x="3298" y="708" width="2" height="142" fill="#a72908"/>
<rect x="3294" y="744" width="10" height="12" fill="#aa2318"/>
<rect x="3295" y="745" width="8" height="10" fill="#ad2a21"/>
<rect x="3312" y="688" width="2" height="80" fill="#a72908"/>
<rect x="3308" y="716" width="10" height="30" fill="#aa2318"/>
<rect x="3309" y="717" width="8" height="28" fill="#ad2a21"/>
<rect x="3326" y="744" width="2" height="110" fill="#a72908"/>
<rect x="3322" y="744" width="10" height="74" fill="#aa2318"/>
<rect x="3323" y="745" width="8" height="72" fill="#ad2a21"/>
<rect x="3340" y="758" width="2" height="70" fill="#8bba6e"/>
<rect x="3336" y="796" width="10" height="26" fill="#2b6e5b"/>
<rect x="3337" y="797" width="8" height="24" fill="#347462"/>
<rect x="3354" y="700" width="2" height="104" fill="#8bba6e"/>
<rect x="3350" y="702" width="10" height="96" fill="#2b6e5b"/>
<rect x="3351" y="703" width="8" height="94" fill="#347462"/>
<rect x="3368" y="676" width="2" height="60" fill="#8bba6e"/>
<rect x="3364" y="686" width="10" height="18" fill="#2b6e5b"/>
<rect x="3365" y="687" width="8" height="16" fill="#347462"/>
<rect x="3384" y="590" width="2" height="98" fill="#8bba6e"/>
<rect x="3380" y="626" width="10" height="62" fill="#2b6e5b"/>
<rect x="3381" y="627" width="8" height="60" fill="#347462"/>
<rect x="3398" y="686" width="2" height="96" fill="#a72908"/>
<rect x="3394" y="704" width="10" height="48" fill="#aa2318"/>
<rect x="3395" y="705" width="8" height="46" fill="#ad2a21"/>
<rect x="3412" y="744" width="2" height="76" fill="#a72908"/>
<rect x="3408" y="754" width="10" height="34" fill="#aa2318"/>
<rect x="3409" y="755" width="8" height="32" fill="#ad2a21"/>
<rect x="3426" y="722" width="2" height="84" fill="#8bba6e"/>
<rect x="3422" y="752" width="10" height="36" fill="#2b6e5b"/>
<rect x="3423" y="753" width="8" height="34" fill="#347462"/>
<rect x="3440" y="718" width="2" height="70" fill="#8bba6e"/>
<rect x="3436" y="732" width="10" height="20" fill="#2b6e5b"/>
<rect x="3437" y="733" width="8" height="18" fill="#347462"/>
<rect x="3454" y="684" width="2" height="60" fill="#8bba6e"/>
<rect x="3450" y="690" width="10" height="44" fill="#2b6e5b"/>
<rect x="3451" y="691" width="8" height="42" fill="#347462"/>
<rect x="3468" y="652" width="2" height="58" fill="#a72908"/>
<rect x="3464" y="690" width="10" height="12" fill="#aa2318"/>
<rect x="3465" y="691" width="8" height="10" fill="#ad2a21"/>
<rect x="3482" y="704" width="2" height="44" fill="#a72908"/>
<rect x="3478" y="704" width="10" height="40" fill="#aa2318"/>
<rect x="3479" y="705" width="8" height="38" fill="#ad2a21"/>
<rect x="3498" y="694" width="2" height="86" fill="#8bba6e"/>
<rect x="3494" y="704" width="10" height="40" fill="#2b6e5b"/>
<rect x="3495" y="705" width="8" height="38" fill="#347462"/>
<rect x="3512" y="678" width="2" height="84" fill="#a72908"/>
<rect x="3508" y="704" width="10" height="32" fill="#aa2318"/>
<rect x="3509" y="705" width="8" height="30" fill="#ad2a21"/>
<rect x="3526" y="716" width="2" height="72" fill="#a72908"/>
<rect x="3522" y="728" width="10" height="44" fill="#aa2318"/>
<rect x="3523" y="729" width="8" height="42" fill="#ad2a21"/>
<rect x="3540" y="730" width="2" height="102" fill="#8bba6e"/>
<rect x="3536" y="806" width="10" height="10" fill="#2b6e5b"/>
<rect x="3537" y="807" width="8" height="8" fill="#347462"/>
<rect x="3554" y="776" width="2" height="52" fill="#a72908"/>
<rect x="3550" y="796" width="10" height="24" fill="#aa2318"/>
<rect x="3551" y="797" width="8" height="22" fill="#ad2a21"/>
<rect x="3568" y="710" width="2" height="78" fill="#8bba6e"/>
<rect x="3564" y="780" width="10" height="8" fill="#2b6e5b"/>
<rect x="3565" y="781" width="8" height="6" fill="#347462"/>
<rect x="3582" y="758" width="2" height="56" fill="#a72908"/>
<rect x="3578" y="766" width="10" height="38" fill="#aa2318"/>
<rect x="3579" y="767" width="8" height="36" fill="#ad2a21"/>
<rect x="3598" y="786" width="2" height="54" fill="#8bba6e"/>
<rect x="3594" y="788" width="10" height="14" fill="#2b6e5b"/>
<rect x="3595" y="789" width="8" height="12" fill="#347462"/>
<rect x="3612" y="782" width="2" height="142" fill="#a72908"/>
<rect x="3608" y="788" width="10" height="114" fill="#aa2318"/>
<rect x="3609" y="789" width="8" height="112" fill="#ad2a21"/>
<rect x="3626" y="850" width="2" height="74" fill="#8bba6e"/>
<rect x="3622" y="878" width="10" height="24" fill="#2b6e5b"/>
<rect x="3623" y="879" width="8" height="22" fill="#347462"/>
<rect x="3640" y="796" width="2" height="50" fill="#8bba6e"/>
<rect x="3636" y="806" width="10" height="38" fill="#2b6e5b"/>
<rect x="3637" y="807" width="8" height="36" fill="#347462"/>
<rect x="3654" y="804" width="2" height="64" fill="#a72908"/>
<rect x="3650" y="806" width="10" height="46" fill="#aa2318"/>
<rect x="3651" y="807" width="8" height="44" fill="#ad2a21"/>
<rect x="3668" y="830" width="2" height="42" fill="#a72908"/>
<rect x="3664" y="852" width="10" height="14" fill="#aa2318"/>
<rect x="3665" y="853" width="8" height="12" fill="#ad2a21"/>
<rect x="3682" y="860" width="2" height="54" fill="#a72908"/>
<rect x="3678" y="864" width="10" height="14" fill="#aa2318"/>
<rect x="3679" y="865" width="8" height="12" fill="#ad2a21"/>
<rect x="3696" y="872" width="2" height="36" fill="#a72908"/>
<rect x="3692" y="872" width="10" height="26" fill="#aa2318"/>
<rect x="3693" y="873" width="8" height="24" fill="#ad2a21"/>
<rect x="3712" y="880" width="2" height="46" fill="#a72908"/>
<rect x="3708" y="894" width="10" height="14" fill="#aa2318"/>
<rect x="3709" y="895" width="8" height="12" fill="#ad2a21"/>
<rect x="3726" y="830" width="2" height="90" fill="#8bba6e"/>
<rect x="3722" y="840" width="10" height="68" fill="#2b6e5b"/>
<rect x="3723" y="841" width="8" height="66" fill="#347462"/>
<rect x="3740" y="432" width="2" height="146" fill="#8bba6e"/>
<rect x="3736" y="464" width="10" height="72" fill="#2b6e5b"/>
<rect x="3737" y="465" width="8" height="70" fill="#347462"/>
<rect x="3754" y="420" width="2" height="54" fill="#a72908"/>
<rect x="3750" y="440" width="10" height="26" fill="#aa2318"/>
<rect x="3751" y="441" width="8" height="24" fill="#ad2a21"/>
<rect x="3762" y="104" width="2" height="1674" fill="#3a424d"/>
<rect x="0" y="1776" width="3764" height="2" fill="#3a424d"/>
<rect x="3764" y="1776" width="102" height="2" fill="#c8c8c8"/>
<rect x="3764" y="130" width="6" height="2" fill="#3a424d"/>
<text x="3775" y="140.5" font-size="25.5" fill="#464e56" textLength="80" lengthAdjust="spacingAndGlyphs" stroke="#464e56" stroke-width="0.9">150.00</text>
<rect x="3764" y="340" width="6" height="2" fill="#3a424d"/>
<text x="3775" y="350.5" font-size="25.5" fill="#464e56" textLength="78" lengthAdjust="spacingAndGlyphs" stroke="#464e56" stroke-width="0.9">125.00</text>
<rect x="3764" y="550" width="6" height="2" fill="#3a424d"/>
<text x="3775" y="560.5" font-size="25.5" fill="#464e56" textLength="82" lengthAdjust="spacingAndGlyphs" stroke="#464e56" stroke-width="0.9">100.00</text>
<rect x="3764" y="758" width="6" height="2" fill="#3a424d"/>
<text x="3775" y="768.5" font-size="25.5" fill="#464e56" textLength="65" lengthAdjust="spacingAndGlyphs" stroke="#464e56" stroke-width="0.9">75.00</text>
<rect x="3764" y="968" width="6" height="2" fill="#3a424d"/>
<text x="3775" y="978.5" font-size="25.5" fill="#464e56" textLength="68.5" lengthAdjust="spacingAndGlyphs" stroke="#464e56" stroke-width="0.9">50.00</text>
<rect x="3764" y="1178" width="6" height="2" fill="#3a424d"/>
<text x="3775" y="1188.5" font-size="25.5" fill="#464e56" textLength="67" lengthAdjust="spacingAndGlyphs" stroke="#464e56" stroke-width="0.9">25.00</text>
<rect x="3764" y="1388" width="6" height="2" fill="#3a424d"/>
<text x="3775" y="1398.5" font-size="25.5" fill="#464e56" textLength="52" lengthAdjust="spacingAndGlyphs" stroke="#464e56" stroke-width="0.9">0.00</text>
<rect x="3764" y="1596" width="6" height="2" fill="#3a424d"/>
<text x="3775" y="1606.5" font-size="25.5" fill="#464e56" textLength="76.5" lengthAdjust="spacingAndGlyphs" stroke="#464e56" stroke-width="0.9">-25.00</text>
<rect x="196" y="1778" width="2" height="10" fill="#3a424d"/>
<text x="166.0" y="1817.5" font-size="25.5" fill="#464e56" textLength="62" lengthAdjust="spacingAndGlyphs" stroke="#464e56" stroke-width="0.9">2002</text>
<rect x="340" y="1778" width="2" height="10" fill="#3a424d"/>
<text x="310.0" y="1817.5" font-size="25.5" fill="#464e56" textLength="62" lengthAdjust="spacingAndGlyphs" stroke="#464e56" stroke-width="0.9">2003</text>
<rect x="496" y="1778" width="2" height="10" fill="#3a424d"/>
<text x="466.0" y="1817.5" font-size="25.5" fill="#464e56" textLength="62" lengthAdjust="spacingAndGlyphs" stroke="#464e56" stroke-width="0.9">2004</text>
<rect x="638" y="1778" width="2" height="10" fill="#3a424d"/>
<text x="608.0" y="1817.5" font-size="25.5" fill="#464e56" textLength="62" lengthAdjust="spacingAndGlyphs" stroke="#464e56" stroke-width="0.9">2005</text>
<rect x="796" y="1778" width="2" height="10" fill="#3a424d"/>
<text x="766.0" y="1817.5" font-size="25.5" fill="#464e56" textLength="62" lengthAdjust="spacingAndGlyphs" stroke="#464e56" stroke-width="0.9">2006</text>
<rect x="938" y="1778" width="2" height="10" fill="#3a424d"/>
<text x="908.0" y="1817.5" font-size="25.5" fill="#464e56" textLength="62" lengthAdjust="spacingAndGlyphs" stroke="#464e56" stroke-width="0.9">2007</text>
<rect x="1080" y="1778" width="2" height="10" fill="#3a424d"/>
<text x="1050.0" y="1817.5" font-size="25.5" fill="#464e56" textLength="62" lengthAdjust="spacingAndGlyphs" stroke="#464e56" stroke-width="0.9">2008</text>
<rect x="1238" y="1778" width="2" height="10" fill="#3a424d"/>
<text x="1208.0" y="1817.5" font-size="25.5" fill="#464e56" textLength="62" lengthAdjust="spacingAndGlyphs" stroke="#464e56" stroke-width="0.9">2009</text>
<rect x="1366" y="1778" width="2" height="10" fill="#3a424d"/>
<text x="1338.75" y="1817.5" font-size="25.5" fill="#464e56" textLength="56.5" lengthAdjust="spacingAndGlyphs" stroke="#464e56" stroke-width="0.9">2010</text>
<rect x="1522" y="1778" width="2" height="10" fill="#3a424d"/>
<text x="1497.5" y="1817.5" font-size="25.5" fill="#464e56" textLength="51" lengthAdjust="spacingAndGlyphs" stroke="#464e56" stroke-width="0.9">2011</text>
<rect x="1680" y="1778" width="2" height="10" fill="#3a424d"/>
<text x="1652.75" y="1817.5" font-size="25.5" fill="#464e56" textLength="56.5" lengthAdjust="spacingAndGlyphs" stroke="#464e56" stroke-width="0.9">2012</text>
<rect x="1808" y="1778" width="2" height="10" fill="#3a424d"/>
<text x="1780.75" y="1817.5" font-size="25.5" fill="#464e56" textLength="56.5" lengthAdjust="spacingAndGlyphs" stroke="#464e56" stroke-width="0.9">2013</text>
<rect x="1950" y="1778" width="2" height="10" fill="#3a424d"/>
<text x="1922.75" y="1817.5" font-size="25.5" fill="#464e56" textLength="56.5" lengthAdjust="spacingAndGlyphs" stroke="#464e56" stroke-width="0.9">2014</text>
<rect x="2108" y="1778" width="2" height="10" fill="#3a424d"/>
<text x="2080.75" y="1817.5" font-size="25.5" fill="#464e56" textLength="56.5" lengthAdjust="spacingAndGlyphs" stroke="#464e56" stroke-width="0.9">2015</text>
<rect x="2236" y="1778" width="2" height="10" fill="#3a424d"/>
<text x="2208.75" y="1817.5" font-size="25.5" fill="#464e56" textLength="56.5" lengthAdjust="spacingAndGlyphs" stroke="#464e56" stroke-width="0.9">2016</text>
<rect x="2392" y="1778" width="2" height="10" fill="#3a424d"/>
<text x="2364.75" y="1817.5" font-size="25.5" fill="#464e56" textLength="56.5" lengthAdjust="spacingAndGlyphs" stroke="#464e56" stroke-width="0.9">2017</text>
<rect x="2534" y="1778" width="2" height="10" fill="#3a424d"/>
<text x="2506.75" y="1817.5" font-size="25.5" fill="#464e56" textLength="56.5" lengthAdjust="spacingAndGlyphs" stroke="#464e56" stroke-width="0.9">2018</text>
<rect x="2678" y="1778" width="2" height="10" fill="#3a424d"/>
<text x="2650.75" y="1817.5" font-size="25.5" fill="#464e56" textLength="56.5" lengthAdjust="spacingAndGlyphs" stroke="#464e56" stroke-width="0.9">2019</text>
<rect x="2820" y="1778" width="2" height="10" fill="#3a424d"/>
<text x="2790.0" y="1817.5" font-size="25.5" fill="#464e56" textLength="62" lengthAdjust="spacingAndGlyphs" stroke="#464e56" stroke-width="0.9">2020</text>
<rect x="2962" y="1778" width="2" height="10" fill="#3a424d"/>
<text x="2934.75" y="1817.5" font-size="25.5" fill="#464e56" textLength="56.5" lengthAdjust="spacingAndGlyphs" stroke="#464e56" stroke-width="0.9">2021</text>
<rect x="3120" y="1778" width="2" height="10" fill="#3a424d"/>
<text x="3090.0" y="1817.5" font-size="25.5" fill="#464e56" textLength="62" lengthAdjust="spacingAndGlyphs" stroke="#464e56" stroke-width="0.9">2022</text>
<rect x="3276" y="1778" width="2" height="10" fill="#3a424d"/>
<text x="3246.0" y="1817.5" font-size="25.5" fill="#464e56" textLength="62" lengthAdjust="spacingAndGlyphs" stroke="#464e56" stroke-width="0.9">2023</text>
<rect x="3418" y="1778" width="2" height="10" fill="#3a424d"/>
<text x="3388.0" y="1817.5" font-size="25.5" fill="#464e56" textLength="62" lengthAdjust="spacingAndGlyphs" stroke="#464e56" stroke-width="0.9">2024</text>
<rect x="3562" y="1778" width="2" height="10" fill="#3a424d"/>
<text x="3532.0" y="1817.5" font-size="25.5" fill="#464e56" textLength="62" lengthAdjust="spacingAndGlyphs" stroke="#464e56" stroke-width="0.9">2025</text>
<rect x="3760" y="440" width="97" height="50" rx="5" fill="#317461"/>
<text x="3774.5" y="475.5" font-size="25.5" fill="#fff" textLength="73.5" lengthAdjust="spacingAndGlyphs" stroke="#fff" stroke-width="0.5">110.25</text>
<path d="M3866 725 H3852 a4 4 0 0 0 -4 4 V781 a4 4 0 0 0 4 4 H3866 Z" fill="#3064cd"/>
<path d="M3855.1 749.7 L3860.8 754.7 L3855.1 759.8" fill="none" stroke="#fff" stroke-width="1.5" stroke-linecap="round"/>
<rect x="1826" y="1717" width="105" height="37" rx="5" fill="#000" opacity="0.06"/>
<rect x="1826" y="1715" width="105" height="37" rx="5" fill="#fafafa"/>
<rect x="1877.5" y="1718" width="1.5" height="30" fill="#dcdcdc"/>
<rect x="1929.5" y="1718" width="1.5" height="30" fill="#dcdcdc"/>
<rect x="1843" y="1731" width="20" height="5" fill="#666"/>
<rect x="1895.5" y="1731" width="19.5" height="5" fill="#666"/>
<rect x="1903" y="1723.5" width="5" height="19.5" fill="#666"/>
<rect x="20" y="151" width="110.3" height="37" fill="#fff"/>
<text x="23" y="180" font-size="28.5" fill="#464e56" textLength="104.3" lengthAdjust="spacingAndGlyphs">O:112.96</text>
<rect x="143.6" y="151" width="111.80000000000001" height="37" fill="#fff"/>
<text x="146.6" y="180" font-size="28.5" fill="#464e56" textLength="105.80000000000001" lengthAdjust="spacingAndGlyphs">H:115.48</text>
<rect x="268" y="151" width="111.60000000000002" height="37" fill="#fff"/>
<text x="271" y="180" font-size="28.5" fill="#464e56" textLength="105.60000000000002" lengthAdjust="spacingAndGlyphs">L:108.89</text>
<rect x="391.6" y="151" width="111.0" height="37" fill="#fff"/>
<text x="394.6" y="180" font-size="28.5" fill="#464e56" textLength="105.0" lengthAdjust="spacingAndGlyphs">C:110.25</text>
<rect x="515.8" y="151" width="91.90000000000009" height="37" fill="#fff"/>
<text x="518.8" y="180" font-size="28.5" fill="#464e56" textLength="85.90000000000009" lengthAdjust="spacingAndGlyphs">V:91.7k</text>
<rect x="0" y="0" width="3866" height="4" fill="#448c7d"/>
<rect x="0" y="3" width="3866" height="1" fill="#3a8672"/>
<text x="13" y="38" font-size="26.5" fill="#1d2228" stroke="#1d2228" stroke-width="1.0" textLength="307" lengthAdjust="spacingAndGlyphs">Crude Oil May 26 (<tspan fill="#2f62d0" stroke="#2f62d0" stroke-width="0.7">CL=F</tspan>)</text>
<text x="13" y="74" font-size="23" fill="#232a31" textLength="408" lengthAdjust="spacingAndGlyphs">NY Mercantile - Delayed Quote • USD</text>
<text x="455" y="44" font-size="26.5" fill="#1d2228" stroke="#1d2228" stroke-width="1.0" textLength="79" lengthAdjust="spacingAndGlyphs">110.25</text>
<text x="552" y="44" font-size="26.5" fill="#c5282d" textLength="59.5" lengthAdjust="spacingAndGlyphs" stroke="#c5282d" stroke-width="0.6">-1.29</text>
<text x="631" y="44" font-size="26.5" fill="#c5282d" textLength="93.5" lengthAdjust="spacingAndGlyphs" stroke="#c5282d" stroke-width="0.6">(-1.16%)</text>
<text x="455" y="82.7" font-size="23" fill="#232a31" textLength="399.5" lengthAdjust="spacingAndGlyphs">As of 7:48:54 AM EDT. Market Open.</text>
<rect x="888" y="31.3" width="163" height="46.4" rx="23.2" fill="#fff" stroke="#1d2228" stroke-width="2"/>
<text x="947" y="64" font-size="27" font-weight="bold" fill="#1d2228" textLength="82" lengthAdjust="spacingAndGlyphs">Follow</text>
<polygon points="924.0,45.0 926.6,51.4 933.5,51.9 928.2,56.4 929.9,63.1 924.0,59.4 918.1,63.1 919.8,56.4 914.5,51.9 921.4,51.4" fill="none" stroke="#1d2228" stroke-width="2" stroke-linejoin="round"/>
<text x="3741.5" y="63" font-size="27" font-weight="bold" fill="#5b636a" textLength="91" lengthAdjust="spacingAndGlyphs">Candle</text>
<path d="M3850 51 L3856.2 57.5 L3862.5 51" fill="none" stroke="#1d2228" stroke-width="2.2"/>
<path d="M675 1864 V1865 V1864 V1865 Z" fill="none"/>
<rect x="675" y="1857" width="78" height="20" rx="8" fill="#eff5fd"/>
<rect x="1057" y="1860" width="155" height="30" rx="14" fill="#fff" stroke="#d8dce2" stroke-width="2"/>
</svg>
</body></html>
